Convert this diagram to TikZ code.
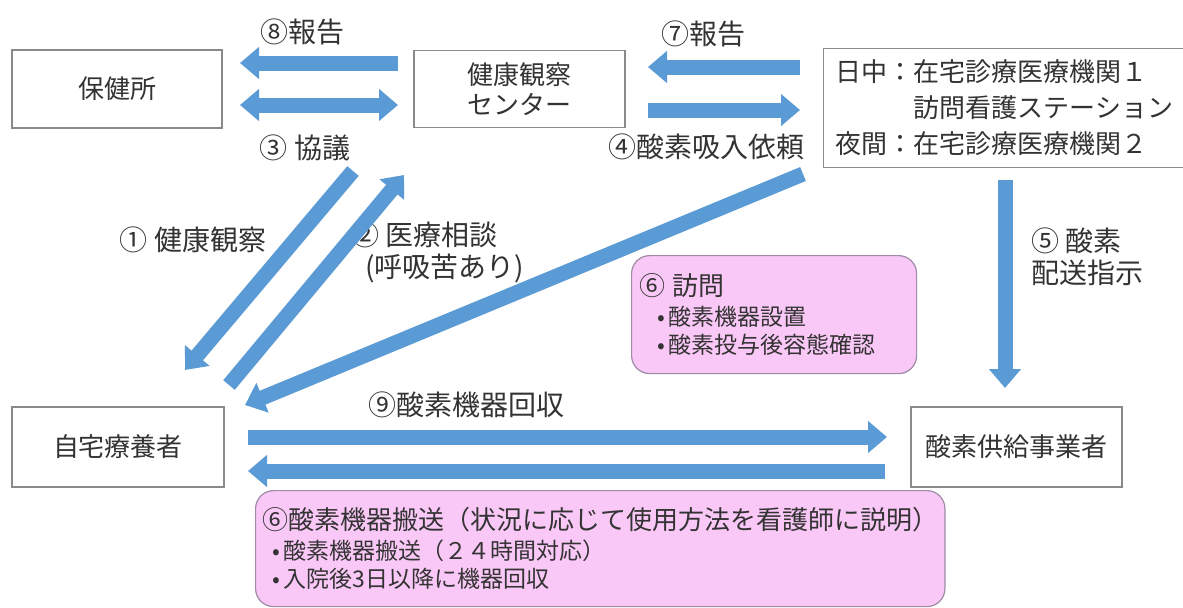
\documentclass[tikz,border=0pt]{standalone}
\usepackage{fontspec}
\setmainfont{Noto Sans CJK JP}
\usepackage{xcolor}
\usepackage{tikz}
\usetikzlibrary{arrows.meta, positioning}

\definecolor{arrowblue}{HTML}{5B9BD5}
\definecolor{pinkfill}{HTML}{FAC8F7}
\definecolor{pinkline}{HTML}{9E8CA6}
\definecolor{boxline}{HTML}{8A8A8A}
\definecolor{txt}{HTML}{333333}

\begin{document}
\begin{tikzpicture}[x=0.5pt, y=-0.5pt, text=txt]
		\tikzstyle{box} = [draw=boxline, line width=0.6pt, rectangle, align=center, font=\fontsize{13}{15}\selectfont]
		\tikzstyle{pinkbox} = [draw=pinkline, fill=pinkfill, line width=0.6pt, rounded corners=9pt, align=left, font=\fontsize{11.5}{14}\selectfont]
		\tikzstyle{lbl} = [draw=none, align=left, font=\fontsize{14}{16}\selectfont]
		\tikzstyle{arr} = [draw=arrowblue, line width=7.5pt, -{Triangle[width=15.5pt, length=9.5pt]}]
		\tikzstyle{darr} = [draw=arrowblue, line width=7.5pt, {Triangle[width=15.5pt, length=9.5pt]}-{Triangle[width=15.5pt, length=9.5pt]}]

		\useasboundingbox (0, 0) rectangle (1183, 607);
		\fill[white] (0, 0) rectangle (1183, 607);

		% boxes
		\node[box, minimum width=105pt, minimum height=39pt] 	at (117, 89)		(hc) 		{保健所};
		\node[box, minimum width=105.5pt, minimum height=38.5pt] at (519.5, 89)	(center) 	{健康観察\\センター};
		\node[box, anchor=north west, minimum width=190pt, minimum height=59.5pt, text width=178pt, align=left, inner xsep=6pt, font=\fontsize{13}{18}\selectfont]
																	at (823, 48)		(clinic) 	{日中：在宅診療医療機関１\\\hphantom{日中：}訪問看護ステーション\\夜間：在宅診療医療機関２};
		\node[box, minimum width=106pt, minimum height=40pt] 	at (118, 447)		(home) 		{自宅療養者};
		\node[box, minimum width=105.5pt, minimum height=40pt] 	at (1016.5, 447)	(supplier) 	{酸素供給事業者};

		\node[pinkbox, anchor=north west, minimum width=142.5pt, minimum height=59pt, text width=135pt]
																	at (631, 255)		(visit) 	{{\fontsize{13}{16}\selectfont ⑥ 訪問}\\[1pt]
																									 \hspace*{9pt}•\,酸素機器設置\\
																									 \hspace*{9pt}•\,酸素投与後容態確認};
		\node[pinkbox, anchor=north west, minimum width=344pt, minimum height=58pt, text width=338pt]
																	at (255, 490)		(carry) 	{{\fontsize{13}{16}\selectfont ⑥酸素機器搬送（状況に応じて使用方法を看護師に説明）}\\[1pt]
																									 \hspace*{5pt}•\,酸素機器搬送（２４時間対応）\\
																									 \hspace*{5pt}•\,入院後3日以降に機器回収};

		% labels
		\node[lbl] 	at (302, 32)		(l8) 	{⑧報告};
		\node[lbl] 	at (305, 148)		(l3) 	{③ 協議};
		\node[lbl] 	at (703, 34)		(l7) 	{⑦報告};
		\node[lbl] 	at (706, 147)		(l4) 	{④酸素吸入依頼};
		\node[lbl] 	at (193, 240)		(l1) 	{① 健康観察};
		\node[lbl, anchor=west] 	at (344, 252)	(l2) 	{② 医療相談\\\hspace*{0.5em}(呼吸苦あり)};
		\node[lbl, anchor=west] 	at (1024, 257)	(l5) 	{⑤ 酸素\\配送指示};
		\node[lbl] 	at (466, 405)		(l9) 	{⑨酸素機器回収};

		% arrow ends
		\coordinate (a8t) at (398, 63);		\coordinate (a8h) at (240, 63);
		\coordinate (a3l) at (240, 105);	\coordinate (a3r) at (398, 105);
		\coordinate (a7t) at (800, 67);		\coordinate (a7h) at (648, 67);
		\coordinate (a4t) at (648, 110);	\coordinate (a4h) at (800, 110);
		\coordinate (a1t) at (353, 171);	\coordinate (a1h) at (185, 370);
		\coordinate (a2t) at (229, 385);	\coordinate (a2h) at (404, 175);
		\coordinate (a4dt) at (803, 174);	\coordinate (a4dh) at (245, 405);
		\coordinate (a5t) at (1005, 180);	\coordinate (a5h) at (1005, 388);
		\coordinate (a9t) at (248, 437);	\coordinate (a9h) at (887, 437);
		\coordinate (a6t) at (885, 471);	\coordinate (a6h) at (248, 471);

		\path
		(a8t) 	edge 	[arr] 	(a8h)
		(a3l) 	edge 	[darr] 	(a3r)
		(a7t) 	edge 	[arr] 	(a7h)
		(a4t) 	edge 	[arr] 	(a4h)
		(a1t) 	edge 	[arr] 	(a1h)
		(a2t) 	edge 	[arr] 	(a2h)
		(a4dt) 	edge 	[arr] 	(a4dh)
		(a5t) 	edge 	[arr] 	(a5h)
		(a9t) 	edge 	[arr] 	(a9h)
		(a6t) 	edge 	[arr] 	(a6h);
	\end{tikzpicture}
\end{document}
